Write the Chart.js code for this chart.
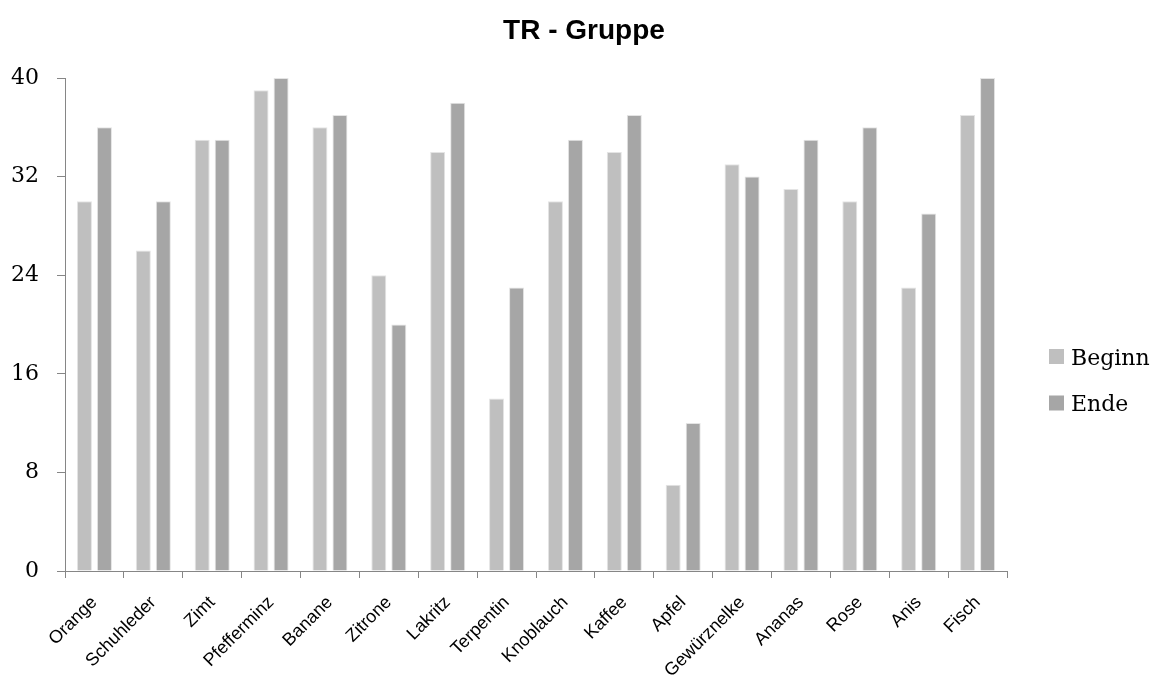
<!DOCTYPE html>
<html>
<head>
<meta charset="utf-8">
<script src="https://cdn.jsdelivr.net/npm/chart.js@4"></script>
<style>
  html, body { margin: 0; padding: 0; background: #fff; }
  #wrap { width: 1155px; height: 677px; }
</style>
</head>
<body>
<div id="wrap"><canvas id="c" width="1155" height="677"></canvas></div>
<script>
// Odour categories and ratings at the start and end of the session
const categories = ["Orange", "Schuhleder", "Zimt", "Pfefferminz", "Banane", "Zitrone", "Lakritz", "Terpentin",
                    "Knoblauch", "Kaffee", "Apfel", "Gewürznelke", "Ananas", "Rose", "Anis", "Fisch"];
const beginn = [30, 26, 35, 39, 36, 24, 34, 14, 30, 34, 7, 33, 31, 30, 23, 37];
const ende   = [36, 30, 35, 40, 37, 20, 38, 23, 35, 37, 12, 32, 35, 36, 29, 40];
const yTicks = [0, 8, 16, 24, 32, 40];

const chartTitle = "TR - Gruppe";
const seriesNames = ["Beginn", "Ende"];
const seriesColors = ["#bfbfbf", "#a6a6a6"];

const axisGray = "#868686";
const serif = "'DejaVu Serif'";
const sans = "'Liberation Sans'";

// Title centred over the whole figure
const figureTitle = {
  id: "figureTitle",
  afterDraw(chart) {
    const ctx = chart.ctx;
    ctx.save();
    ctx.font = "bold 28px " + sans;
    ctx.fillStyle = "#000";
    ctx.textAlign = "center";
    ctx.textBaseline = "alphabetic";
    ctx.fillText(chartTitle, 584, 39);
    ctx.restore();
  }
};

// Legend drawn at the right of the plot
const sideLegend = {
  id: "sideLegend",
  afterDraw(chart) {
    const ctx = chart.ctx;
    ctx.save();
    ctx.font = "22px " + serif;
    ctx.textBaseline = "alphabetic";
    ctx.textAlign = "left";
    const x0 = 1049, box = 15;
    const rows = [356.5, 403];
    seriesNames.forEach((name, i) => {
      const cy = rows[i];
      ctx.fillStyle = seriesColors[i];
      ctx.fillRect(x0, cy - box / 2, box, box);
      ctx.fillStyle = "#000";
      ctx.fillText(name, x0 + box + 7, cy + 8);
    });
    ctx.restore();
  }
};

new Chart(document.getElementById("c"), {
  type: "bar",
  data: {
    labels: categories,
    datasets: [
      { label: seriesNames[0], data: beginn, backgroundColor: seriesColors[0], borderColor: "#e4e4e4", borderWidth: 1 },
      { label: seriesNames[1], data: ende, backgroundColor: seriesColors[1], borderColor: "#e4e4e4", borderWidth: 1 }
    ]
  },
  options: {
    responsive: false,
    animation: false,
    events: [],
    datasets: { bar: { categoryPercentage: 0.68, barPercentage: 0.75 } },
    layout: { padding: { left: 0, right: 148, top: 78, bottom: 0 } },
    plugins: {
      legend: { display: false },
      tooltip: { enabled: false },
      title: { display: false }
    },
    scales: {
      x: {
        grid: { display: true, drawOnChartArea: false, offset: true, tickLength: 7, color: axisGray },
        border: { display: true, color: axisGray, width: 1 },
        ticks: {
          minRotation: 45, maxRotation: 45, autoSkip: false,
          color: "#000", padding: 14,
          font: { family: sans, size: 18 }
        },
        afterFit(scale) { scale.height = 106; }
      },
      y: {
        min: 0, max: 40,
        afterBuildTicks(scale) { scale.ticks = yTicks.map(v => ({ value: v })); },
        grid: { display: true, drawOnChartArea: false, tickLength: 8, color: axisGray },
        border: { display: true, color: axisGray, width: 1 },
        ticks: {
          color: "#000", padding: 18,
          font: { family: serif, size: 22 }
        },
        afterFit(scale) { scale.width = 65; }
      }
    }
  },
  plugins: [figureTitle, sideLegend]
});
</script>
</body>
</html>
